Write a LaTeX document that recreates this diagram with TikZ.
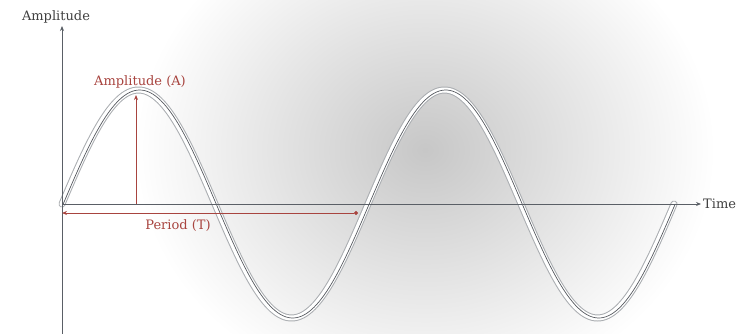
\documentclass[tikz,border=0pt]{standalone}
\usepackage{fontspec}
\setmainfont{DejaVu Serif}
\usetikzlibrary{arrows.meta}
\definecolor{ampred}{HTML}{A8443F}
\definecolor{axisgray}{HTML}{5A5F66}
\definecolor{tubegray}{HTML}{A9ACB0}
\definecolor{tubedark}{HTML}{55595F}
\tikzset{
  axisline/.style={draw=axisgray, line width=1pt},
  redline/.style={draw=ampred, line width=0.8pt},
  lbl/.style={inner sep=1pt, font=\fontsize{13}{15}\selectfont},
  redlbl/.style={lbl, text=ampred},
  graylbl/.style={lbl, text=black!75},
  tubeouter/.style={draw=tubegray, line width=7pt, line cap=round},
  tubeinner/.style={draw=white, line width=5pt, line cap=round},
  tubecore/.style={draw=tubedark, line width=0.7pt, line cap=round},
}
\begin{document}
\begin{tikzpicture}[x=1pt, y=-1pt]
\useasboundingbox (0,0) rectangle (751,334);
% background glow
\begin{scope}
  \clip (0,0) rectangle (751,334);
  \shade[inner color=black!22, outer color=white] (425,150) ellipse [x radius=290, y radius=250];
\end{scope}

% coordinates
\coordinate (o) at (62,204);
\coordinate (ytop) at (62,26);
\coordinate (ybot) at (62,334);
\coordinate (xend) at (701,204);
\coordinate (abase) at (136,204);
\coordinate (atop) at (136,95);
\coordinate (p0) at (62,213);
\coordinate (p1) at (358,213);

% sine wave tube
\draw[tubeouter] plot[domain=0:612, samples=240, smooth] ({62+\x},{204-114*sin(\x/0.85)});
\draw[tubeinner] plot[domain=0:612, samples=240, smooth] ({62+\x},{204-114*sin(\x/0.85)});
\draw[tubecore] plot[domain=0:612, samples=240, smooth] ({63.2+\x},{204-114*sin(\x/0.85)});

% axes
\draw[axisline, -{Stealth[length=5pt,width=4pt]}] (ybot) -- (ytop);
\draw[axisline, -{Stealth[length=5pt,width=4pt]}] (o) -- (xend);
\node[graylbl, anchor=west] (time) at (702,204) {Time};
\node[graylbl] (amplab) at (56,17) {Amplitude};

% amplitude arrow
\draw[redline, -{Stealth[length=5pt,width=4pt]}] (abase) -- (atop);
\node[redlbl] (alab) at (140,82) {Amplitude (A)};

% period arrow
\draw[redline, {Stealth[length=5pt,width=4pt]}-{Circle[length=4pt]}] (p0) -- (p1);
\node[redlbl] (plab) at (178,226) {Period (T)};
\end{tikzpicture}
\end{document}
